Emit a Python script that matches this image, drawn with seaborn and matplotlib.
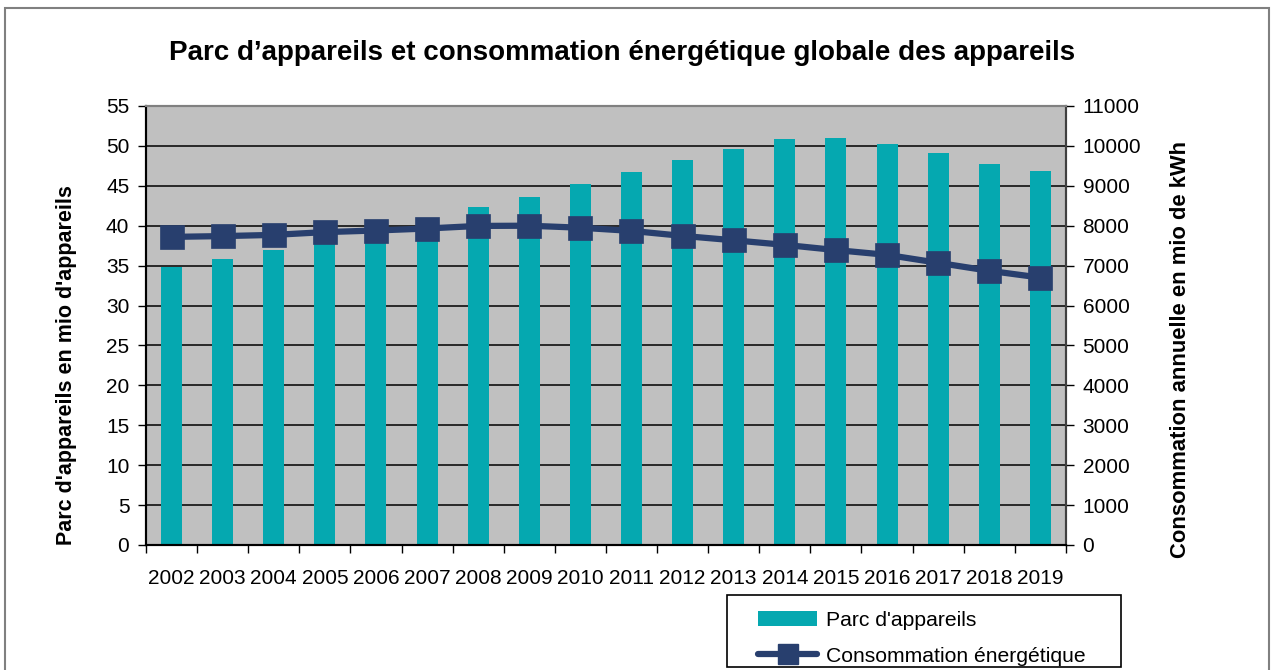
import numpy as np
import pandas as pd
import matplotlib
matplotlib.use("Agg")
import matplotlib.pyplot as plt
import seaborn as sns
from matplotlib.patches import Rectangle, Patch
from matplotlib.lines import Line2D


# =========================================
# DATA
# =========================================

years = [str(y) for y in range(2002, 2020)]

parc = [34.8, 35.8, 37.0, 38.2, 39.5, 41.0, 42.4, 43.6, 45.2,
        46.7, 48.2, 49.6, 50.9, 51.0, 50.3, 49.1, 47.7, 46.9]

conso = [7720, 7740, 7770, 7840, 7880, 7930, 7995, 8000, 7950,
         7870, 7745, 7635, 7520, 7390, 7270, 7070, 6870, 6700]

left_ticks = list(range(0, 56, 5))
right_ticks = list(range(0, 11001, 1000))

title = "Parc d\u2019appareils et consommation énergétique globale des appareils"
left_label = "Parc d'appareils en mio d'appareils"
right_label = "Consommation annuelle en mio de kWh"
bar_label = "Parc d'appareils"
line_label = "Consommation énergétique"

bar_color = "#05A8B0"
line_color = "#283F6E"
bg_color = "#C0C0C0"


# =========================================
# FIGURE
# =========================================

sns.set_style("white")
plt.rcParams["font.family"] = ["Liberation Sans", "DejaVu Sans"]
plt.rcParams["text.color"] = "black"
plt.rcParams["xtick.color"] = "black"
plt.rcParams["ytick.color"] = "black"

fig = plt.figure(figsize=(12.75, 6.70), dpi=100)
ax = fig.add_axes([0.1145, 0.1866, 0.7215, 0.6552])
ax2 = ax.twinx()

df = pd.DataFrame({"year": years, "parc": parc, "conso": conso})

sns.barplot(data=df, x="year", y="parc", ax=ax, color=bar_color,
            saturation=1, width=0.41, linewidth=0, edgecolor="none",
            label=bar_label, zorder=2)

sns.pointplot(data=df, x="year", y="conso", ax=ax2, color=line_color,
              markers="s", markersize=14, linewidth=4.5,
              errorbar=None, label=line_label)


# =========================================
# AXES STYLE
# =========================================

n = len(years)
ax.set_xlim(-0.5, n - 0.5)
ax.set_ylim(0, 55)
ax2.set_ylim(0, 11000)

ax.set_facecolor(bg_color)
ax.set_axisbelow(True)
ax.yaxis.grid(True, color="black", linewidth=1.1)
ax.xaxis.grid(False)

ax.set_yticks(left_ticks)
ax2.set_yticks(right_ticks)

# category boundaries as major ticks, labels on minor ticks
ax.set_xticks(np.arange(n + 1) - 0.5)
ax.set_xticklabels([])
ax.set_xticks(np.arange(n), minor=True)
ax.set_xticklabels(years, minor=True)
ax.tick_params(axis="x", which="major", direction="out", length=6,
               width=1, color="black", bottom=True)
ax.tick_params(axis="x", which="minor", length=0, labelsize=15,
               pad=17, labelcolor="black")
ax.tick_params(axis="y", direction="out", length=6, width=1,
               color="black", labelsize=15, pad=6, left=True,
               labelcolor="black")
ax2.tick_params(axis="y", direction="out", length=6, width=1,
                color="black", labelsize=15, pad=6, right=True,
                labelcolor="black")

ax.set_xlabel("")
ax.set_ylabel("")
ax2.set_xlabel("")
ax2.set_ylabel("")

for a in (ax, ax2):
    a.spines["left"].set_color("black")
    a.spines["left"].set_linewidth(1.5)
    a.spines["bottom"].set_color("black")
    a.spines["bottom"].set_linewidth(1.5)
    a.spines["right"].set_color("#404040")
    a.spines["right"].set_linewidth(1.5)
    a.spines["top"].set_color("#808080")
    a.spines["top"].set_linewidth(1.5)

if ax.get_legend() is not None:
    ax.get_legend().remove()
if ax2.get_legend() is not None:
    ax2.get_legend().remove()


# =========================================
# TEXTS
# =========================================

fig.text(0.488, 0.921, title, ha="center", va="center",
         fontsize=20, fontweight="bold", color="black")

fig.text(0.0525, 0.455, left_label, rotation=90, ha="center",
         va="center", fontsize=15.5, fontweight="bold", color="black")

fig.text(0.9255, 0.478, right_label, rotation=90, ha="center",
         va="center", fontsize=15.8, fontweight="bold", color="black")


# =========================================
# LEGEND + BORDERS
# =========================================

handles = [
    Patch(facecolor=bar_color, edgecolor="none"),
    Line2D([], [], color=line_color, linewidth=4.5, marker="s",
           markersize=14),
]
fig.legend(handles, [bar_label, line_label], loc="upper left",
           bbox_to_anchor=(0.5945, 0.088), frameon=False,
           fontsize=15.2, handlelength=2.8, handletextpad=0.4,
           labelspacing=0.78, borderpad=0, borderaxespad=0,
           labelcolor="black")

fig.add_artist(Rectangle((727 / 1275, 3 / 670), 394 / 1275, 72 / 670,
                         transform=fig.transFigure, fill=False,
                         edgecolor="black", linewidth=1.2))

fig.add_artist(Rectangle((5 / 1275, -0.02), 1264 / 1275, 1 - 8 / 670 + 0.02,
                         transform=fig.transFigure, fill=False,
                         edgecolor="#808080", linewidth=1.5))

plt.savefig("out.png", dpi=100)
